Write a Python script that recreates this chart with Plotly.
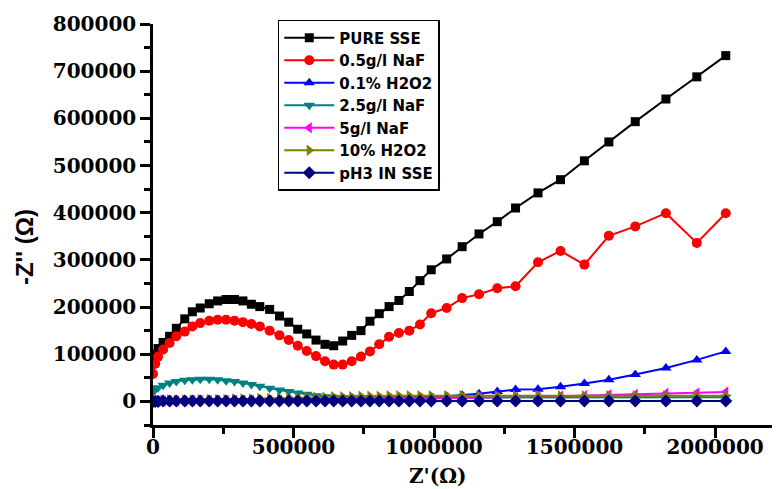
import plotly.graph_objects as go

# Shared Z' sampling (ohm)
z_real = [0, 8e3, 18e3, 36e3, 59e3, 83e3, 113e3, 140e3, 168e3, 200e3, 230e3, 260e3, 290e3,
          320e3, 350e3, 380e3, 415e3, 450e3, 483e3, 515e3, 547e3, 580e3, 612e3, 643e3, 675e3,
          707e3, 740e3, 772e3, 805e3, 840e3, 875e3, 912e3, 950e3, 990e3, 1045e3, 1100e3,
          1160e3, 1225e3, 1290e3, 1370e3, 1450e3, 1535e3, 1622e3, 1716e3, 1825e3, 1935e3, 2038e3]

# -Z'' values in thousands of ohm
pure_sse = [88, 100, 112, 125, 138, 155, 175, 190, 198, 207, 213, 216, 216, 213, 206, 201, 195,
            181, 168, 153, 143, 130, 121, 118, 128, 140, 150, 170, 186, 201, 214, 233, 256, 279,
            302, 328, 355, 381, 410, 442, 470, 510, 550, 593, 641, 688, 733]
naf_05 = [58, 80, 95, 110, 124, 138, 148, 159, 166, 171, 173, 173, 171, 168, 164, 159, 150, 140,
          130, 118, 107, 96, 85, 78, 78, 85, 95, 106, 121, 137, 145, 150, 163, 187, 198, 219, 227,
          240, 244, 295, 319, 290, 351, 371, 399, 336, 399]
h2o2_01 = [3, 3, 3, 3, 3, 3, 3, 3, 3, 3, 3, 3, 3, 3, 3, 4, 4, 4, 5, 5, 5, 6, 6, 6, 7, 7, 7, 8, 8,
           8, 9, 9, 9, 10, 11, 13, 16, 21, 25, 26, 31, 38, 46, 57, 71, 88, 106]
naf_25 = [20, 25, 29, 34, 39, 42, 45, 46, 47, 47, 46, 44, 42, 39, 36, 32, 28, 24, 21, 18, 15, 12,
          10, 9, 8, 8, 8, 8, 8, 8, 8, 8, 8, 8, 8, 8, 8, 8, 8, 8, 8, 8, 8, 9, 9, 9, 9]
naf_5 = [0, 1, 1, 1, 1, 1, 1, 2, 2, 2, 2, 2, 2, 2, 2, 2, 2, 3, 3, 3, 3, 3, 3, 4, 4, 4, 4, 4, 5, 5,
         5, 5, 6, 6, 7, 7, 8, 9, 9, 10, 11, 12, 14, 15, 17, 18, 20]
h2o2_10 = [2, 2, 2, 3, 3, 3, 3, 3, 4, 4, 4, 4, 5, 5, 5, 6, 6, 7, 7, 8, 8, 9, 9, 10, 10, 10, 11,
           11, 11, 12, 12, 12, 12, 12, 12, 12, 12, 12, 12, 12, 12, 12, 12, 12, 12, 12, 12]
ph3_sse = [0, 0, 0, 1, 1, 1, 1, 1, 1, 1, 1, 1, 1, 1, 1, 1, 1, 1, 1, 1, 1, 1, 1, 1, 1, 1, 1, 1, 1,
           1, 1, 1, 1, 1, 1, 1, 1, 1, 1, 1, 1, 1, 1, 1, 1, 1, 1]

names = ["PURE SSE", "0.5g/l NaF", "0.1% H2O2", "2.5g/l NaF", "5g/l NaF", "10% H2O2", "pH3 IN SSE"]
series = [pure_sse, naf_05, h2o2_01, naf_25, naf_5, h2o2_10, ph3_sse]
colors = ["#000000", "#ff0000", "#0000ff", "#008080", "#ff00ff", "#808000", "#000080"]
symbols = ["square", "circle", "triangle-up", "triangle-down", "triangle-left", "triangle-right", "diamond"]
sizes = [9, 10, 10, 10, 10, 10, 10]

fig = go.Figure()
for name, vals, col, sym, sz in zip(names, series, colors, symbols, sizes):
    fig.add_trace(go.Scatter(
        x=z_real, y=[v * 1000 for v in vals], mode="lines+markers", name=name,
        line=dict(color=col, width=2),
        marker=dict(symbol=sym, size=sz, color=col, line=dict(width=0)),
    ))

tickfont = dict(family="DejaVu Serif", size=20, color="black", weight="bold")
common = dict(showline=True, linecolor="black", linewidth=2.5,
              ticks="outside", ticklen=10, tickwidth=2.5, tickcolor="black",
              showgrid=False, zeroline=False, tickfont=tickfont, tickformat="d",
              automargin=False)
# page body adds an 8px offset; margins compensate for it
fig.update_layout(
    width=780, height=489,
    margin=dict(l=145, r=8, t=16, b=72),
    paper_bgcolor="white", plot_bgcolor="white",
    showlegend=True,
    legend=dict(x=0.199, y=1.01, xanchor="left", yanchor="top",
                bgcolor="white", bordercolor="black", borderwidth=1.5,
                font=dict(family="DejaVu Sans", size=15, color="black", weight="bold"),
                itemwidth=50, tracegroupgap=0),
    xaxis=dict(range=[0, 2231000], tick0=0, dtick=500000, ticklabelstandoff=-8,
               minor=dict(ticks="outside", ticklen=6, tickwidth=2.5, tickcolor="black",
                          dtick=250000, tick0=0, showgrid=False),
               **common),
    yaxis=dict(range=[-50000, 800000], tick0=0, dtick=100000,
               minor=dict(ticks="outside", ticklen=6, tickwidth=2.5, tickcolor="black",
                          dtick=50000, tick0=0, showgrid=False),
               **common),
    annotations=[
        dict(text="Z'(Ω)", xref="paper", yref="paper", x=0.453, y=-0.128,
             xanchor="center", yanchor="middle", showarrow=False,
             font=dict(family="DejaVu Serif", size=20, color="black", weight="bold")),
        dict(text="-Z'' (Ω)", xref="paper", yref="paper", x=-0.204, y=0.444,
             xanchor="center", yanchor="middle", showarrow=False, textangle=-90,
             font=dict(family="Liberation Sans", size=24, color="black", weight="bold")),
    ],
)
fig.write_html("out.html")
